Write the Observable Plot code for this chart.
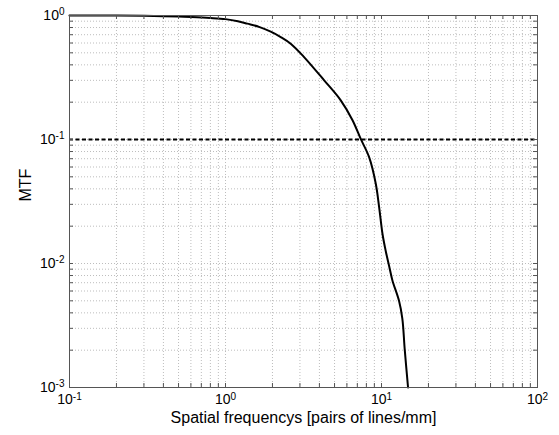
<!DOCTYPE html>
<html><head><meta charset="utf-8">
<script src="https://cdn.jsdelivr.net/npm/d3@7"></script>
<script src="https://cdn.jsdelivr.net/npm/@observablehq/plot@0.6"></script>
<style>
body{margin:0;background:#fff}
#chart svg{font-family:"Liberation Sans",Arial,sans-serif;background:#fff}
</style>
</head><body><div id="chart"></div>
<script>
// Spatial frequency (pairs of lines/mm) and MTF
const freq = [0.1, 0.2, 0.3, 0.4, 0.5, 0.6, 0.8, 1.0, 1.2, 1.38, 1.64, 1.95, 2.26, 2.63, 3.2, 4.29, 5.48, 6.52, 7.36, 8.33, 9.19, 9.66, 10.15, 10.66, 11.2, 11.75, 12.95, 13.6, 14.1, 14.8];
const mtf  = [1.0, 0.998, 0.994, 0.988, 0.98, 0.972, 0.955, 0.935, 0.9, 0.86, 0.81, 0.74, 0.67, 0.59, 0.46, 0.30, 0.207, 0.143, 0.101, 0.072, 0.044, 0.0284, 0.0173, 0.0125, 0.0095, 0.0073, 0.005, 0.0036, 0.002, 0.001];
const threshold = [0.1];
const xDecades = [0.1, 1, 10, 100];
const yDecades = [0.001, 0.01, 0.1, 1];
const xLabel = "Spatial frequencys [pairs of lines/mm]";
const yLabel = "MTF";

function minorTicks(decades) {
  const out = [];
  for (let i = 0; i < decades.length - 1; i++) for (let k = 2; k <= 9; k++) out.push(decades[i] * k);
  return out;
}
const xMinor = minorTicks(xDecades), yMinor = minorTicks(yDecades);
const xAll = xDecades.concat(xMinor), yAll = yDecades.concat(yMinor);
const curve = freq.map((f, i) => ({f, m: mtf[i]}));
const expFmt = d => "10^" + Math.round(Math.log10(d));

const W = 559, H = 435, ML = 69, MR = 22, MT = 15, MB = 48, TL = 4;
const innerW = W - ML - MR, innerH = H - MT - MB;
const gridStyle = {stroke: "#bdbdbd", strokeOpacity: 1, strokeWidth: 1, strokeDasharray: "1,2"};
const axisColor = "#555";

const plot = Plot.plot({
  width: W, height: H,
  marginLeft: ML, marginRight: MR, marginTop: MT, marginBottom: MB,
  x: {type: "log", domain: [0.1, 100]},
  y: {type: "log", domain: [0.001, 1]},
  style: {fontFamily: "'Liberation Sans', Arial, sans-serif", fontSize: "14px", color: "#000", background: "#fff"},
  marks: [
    Plot.gridX(xAll, gridStyle),
    Plot.gridY(yAll, gridStyle),
    Plot.ruleY(threshold, {stroke: "#000", strokeWidth: 2, strokeDasharray: "4,2.5"}),
    Plot.line(curve, {x: "f", y: "m", stroke: "#000", strokeWidth: 2, curve: "catmull-rom"}),
    Plot.tickX(xAll, {x: d => d, stroke: axisColor, insetTop: innerH - TL}),
    Plot.tickX(xAll, {x: d => d, stroke: axisColor, insetBottom: innerH - TL}),
    Plot.tickY(yAll, {y: d => d, stroke: axisColor, insetRight: innerW - TL}),
    Plot.tickY(yAll, {y: d => d, stroke: axisColor, insetLeft: innerW - TL}),
    Plot.axisX(xDecades, {anchor: "bottom", tickSize: 0, tickPadding: 7, tickFormat: expFmt, label: null, fill: "#000"}),
    Plot.axisY(yDecades, {anchor: "left", tickSize: 0, tickPadding: 5, tickFormat: expFmt, label: null, fill: "#000"}),
    Plot.frame({stroke: axisColor, strokeWidth: 1}),
    Plot.text([xLabel], {text: d => d, frameAnchor: "bottom", dy: 35, fontSize: 16, fill: "#000"}),
    Plot.text([yLabel], {text: d => d, frameAnchor: "left", dx: -44, rotate: -90, fontSize: 16, fill: "#000"})
  ]
});

// superscript exponents on tick labels
d3.select(plot).selectAll("text").each(function() {
  const t = d3.select(this);
  const s = t.text();
  const m = /^10\^(-?\d+)$/.exec(s);
  if (!m) return;
  t.text("");
  t.append("tspan").text("10");
  t.append("tspan").attr("dy", "-0.45em").attr("font-size", "10px").text(m[1]);
});

document.getElementById("chart").append(plot);
</script>
</body></html>
